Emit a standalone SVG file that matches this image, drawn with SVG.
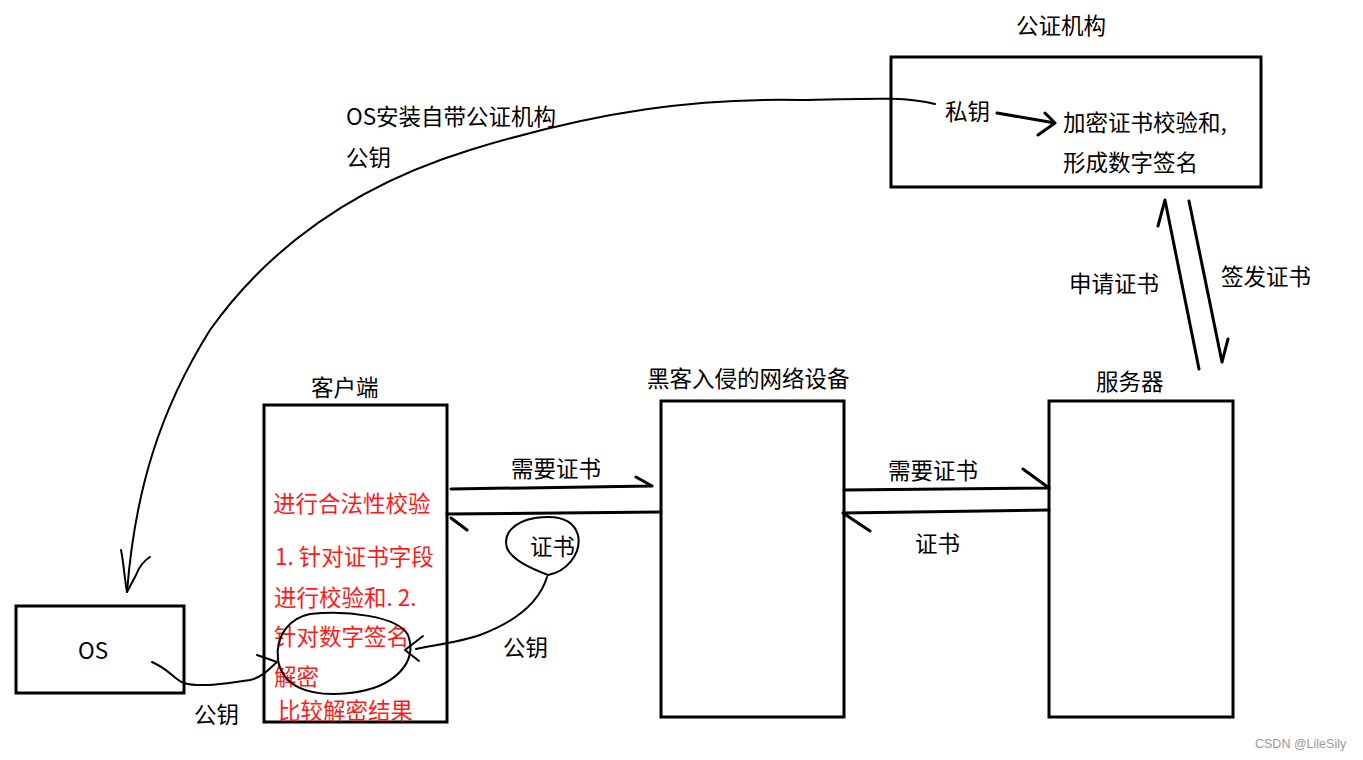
<svg xmlns="http://www.w3.org/2000/svg" width="1363" height="760" viewBox="0 0 1363 760">
<style>
.box{fill:none;stroke:#000;stroke-width:3}
.ln{fill:none;stroke:#000;stroke-width:3;stroke-linecap:round;stroke-linejoin:round}
.pen{fill:none;stroke:#000;stroke-width:2;stroke-linecap:round;stroke-linejoin:round}
text{font-family:"Microsoft YaHei","Noto Sans CJK SC","Noto Sans",sans-serif;font-size:22.5px;fill:#000}
.red{fill:#ff1a1a}
.wm{font-family:"Liberation Sans",Arial,sans-serif;font-size:12.5px;fill:#999}
</style>
<rect width="1363" height="760" fill="#fff"/>
<g id="ca">
<rect class="box" x="891" y="57" width="370" height="130"/>
<text x="1016" y="34">公证机构</text>
<text x="945" y="120">私钥</text>
<text x="1063" y="131">加密证书校验和,</text>
<text x="1063" y="171">形成数字签名</text>
</g>
<g id="client">
<rect class="box" x="264" y="405" width="183" height="317"/>
<text x="311" y="396">客户端</text>
<text class="red" x="273" y="512">进行合法性校验</text>
<text class="red" x="275" y="565">1. 针对证书字段</text>
<text class="red" x="274" y="606">进行校验和. 2.</text>
<text class="red" x="274" y="645">针对数字签名</text>
<text class="red" x="274" y="685">解密</text>
<text class="red" x="278" y="719">比较解密结果</text>
</g>
<g id="hacker">
<rect class="box" x="661" y="401" width="183" height="316"/>
<text x="647" y="387">黑客入侵的网络设备</text>
</g>
<g id="server">
<rect class="box" x="1049" y="401" width="184" height="316"/>
<text x="1096" y="390">服务器</text>
</g>
<g id="os">
<rect class="box" x="16" y="606" width="168" height="87"/>
<text x="78" y="659">OS</text>
</g>
<g id="connectors">
<path class="pen" d="M935,104 C900,95 850,100 800,100 C700,98 600,110 470,150 C340,190 260,260 210,330 C160,410 135,490 127,592"/>
<path class="pen" d="M121,550 C124,565 124,575 127,592 L136,575 C140,565 145,560 150,557"/>
<path class="ln" d="M997,113 L1055,123 M1045,113 L1055,123 L1038,135"/>
<path class="ln" d="M451,489 L652,486 M636,477 L652,486"/>
<path class="ln" d="M447,514 L661,512 M451,518 L467,530"/>
<path class="ln" d="M844,490 L1049,488 M1023,469 L1049,488"/>
<path class="ln" d="M1049,510 L843,513 L870,531"/>
<path class="ln" d="M1199,369 L1165,200 L1158,226"/>
<path class="ln" d="M1189,201 L1222,362 L1228,339"/>
<path class="pen" d="M548,575 C565,572 582,555 578,535 C573,518 555,515 535,518 C512,522 503,535 507,548 C512,560 530,568 548,575"/>
<path class="pen" d="M547,577 C540,600 520,620 480,635 C460,642 435,645 416,649"/>
<path class="pen" d="M423,636 L405,650 L419,661"/>
<path class="pen" d="M310,614 C345,610 398,616 408,635 C418,662 395,688 350,693 C305,698 282,684 278,660 C275,635 290,618 310,614"/>
<path class="pen" d="M152,662 C170,670 175,680 184,683 C200,688 230,683 250,680 C263,677 270,668 277,662 M257,655 L277,662"/>
</g>
<g id="labels">
<text x="346" y="125">OS安装自带公证机构</text>
<text x="346" y="166">公钥</text>
<text x="1069" y="292">申请证书</text>
<text x="1221" y="285">签发证书</text>
<text x="511" y="477">需要证书</text>
<text x="888" y="479">需要证书</text>
<text x="915" y="552">证书</text>
<text x="530" y="555">证书</text>
<text x="503" y="656">公钥</text>
<text x="194" y="723">公钥</text>
<text class="wm" x="1255" y="748">CSDN @LileSily</text>
</g>
</svg>
